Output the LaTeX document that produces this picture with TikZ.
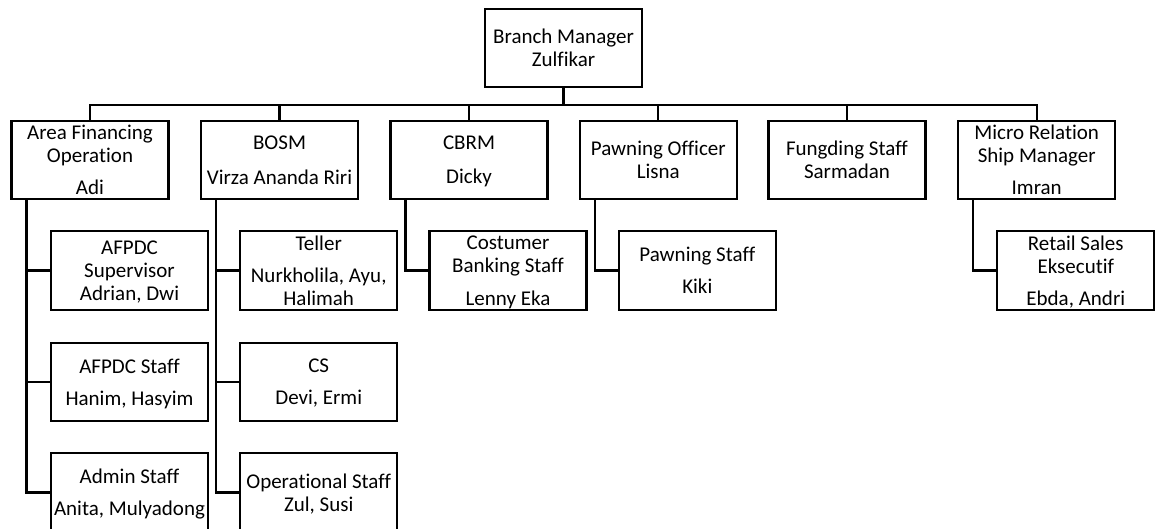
\documentclass[tikz,border=0pt]{standalone}
\usepackage{fontspec}
\setmainfont{Carlito}[Ligatures=NoCommon]
\begin{document}
\begin{tikzpicture}[x=1pt,y=-1pt,
  box/.style={draw, line width=2.2pt, minimum width=157pt, minimum height=78.5pt,
    inner sep=0pt, align=center, font=\fontsize{21}{23}\selectfont, text depth=0pt},
  conn/.style={line width=2.2pt}]
\useasboundingbox (0,0) rectangle (1157,529);
% top
\node[box] (bm) at (563.5,48) {Branch Manager\\Zulfikar};
% level 1
\node[box] (afo)  at (90,160)     {Area Financing\\Operation\\[9.5pt]Adi};
\node[box] (bosm) at (279.5,160)  {BOSM\\[11.5pt]Virza Ananda Riri};
\node[box] (cbrm) at (469,160)    {CBRM\\[11pt]Dicky};
\node[box] (po)   at (658.3,160)  {Pawning Officer\\Lisna};
\node[box] (fs)   at (847,160)    {Fungding Staff\\Sarmadan};
\node[box] (mrm)  at (1036.7,160) {Micro Relation\\Ship Manager\\[9pt]Imran};
% level 2
\node[box] (afs)  at (129.5,270.5) {AFPDC\\Supervisor\\Adrian, Dwi};
\node[box] (afst) at (129.5,382)   {AFPDC Staff\\[9pt]Hanim, Hasyim};
\node[box] (adm)  at (129.5,492.5) {Admin Staff\\[9pt]Anita, Mulyadong};
\node[box] (tel)  at (318.7,270.5) {Teller\\[9.5pt]Nurkholila, Ayu,\\Halimah};
\node[box] (cs)   at (318.7,382)   {CS\\[9pt]Devi, Ermi};
\node[box] (ops)  at (318.7,492.5) {Operational Staff\\Zul, Susi};
\node[box] (cbs)  at (508,270.5)   {Costumer\\Banking Staff\\[9.5pt]Lenny Eka};
\node[box] (pst)  at (697.3,270.5) {Pawning Staff\\[9.5pt]Kiki};
\node[box] (rse)  at (1075.8,270.5) {Retail Sales\\Eksecutif\\[9.5pt]Ebda, Andri};
% connectors
\foreach \n in {afo,bosm,cbrm,po,fs,mrm}
  \draw[conn] (bm.south) -- ++(0,17) -| (\n.north);
\foreach \p/\c in {afo/afs,afo/afst,afo/adm,bosm/tel,bosm/cs,bosm/ops,cbrm/cbs,po/pst,mrm/rse}
  \draw[conn] ([xshift=16pt]\p.south west) |- (\c.west);
\end{tikzpicture}
\end{document}
